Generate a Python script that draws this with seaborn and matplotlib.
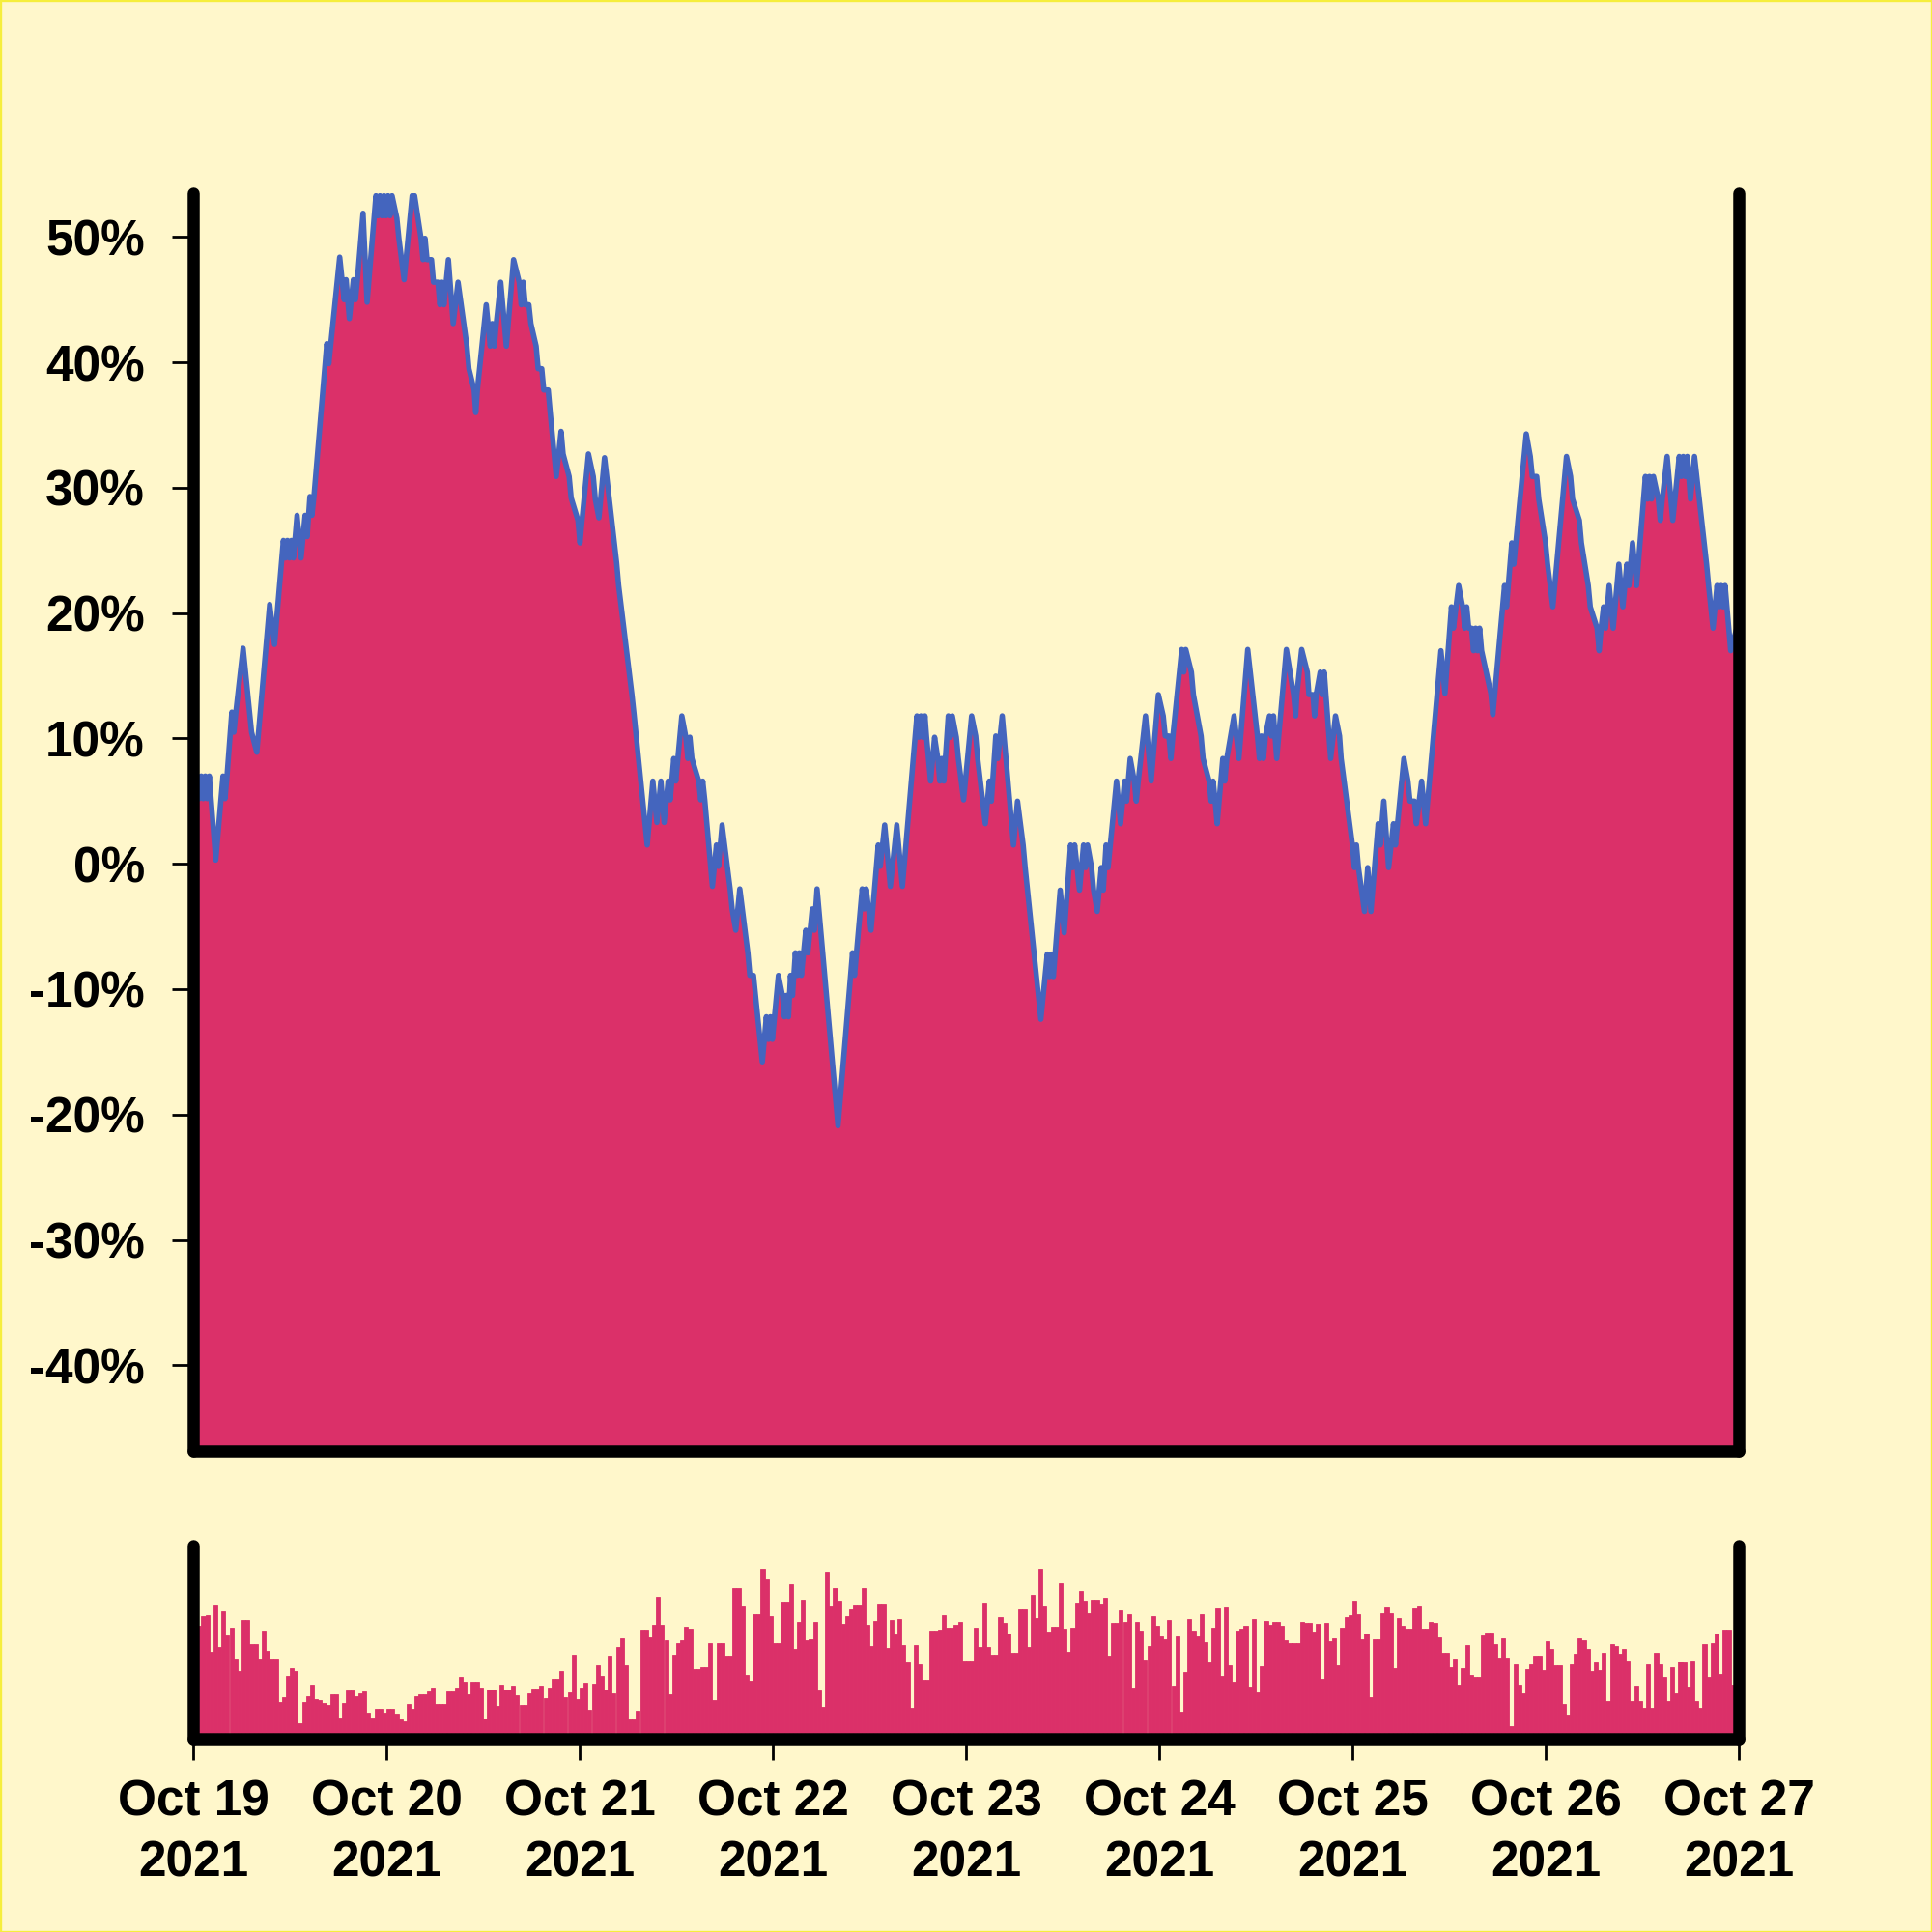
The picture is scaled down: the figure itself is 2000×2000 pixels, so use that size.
import numpy as np
import pandas as pd
import matplotlib
matplotlib.use("Agg")
import matplotlib.pyplot as plt
import seaborn as sns
from matplotlib.patches import Rectangle

# ---------------- data (hours since 2021-10-19 00:00, % change) ----------------
hours_d1 = [0.0, 0.25, 0.5, 0.75, 1.0, 1.25, 1.5, 1.75, 2.0, 2.8, 3.7, 3.95, 4.2,
            4.8, 5.05, 5.3, 6.2, 7.0, 7.25, 7.9, 9.5, 10.1, 11.2, 11.45, 11.7, 11.95,
            12.2, 12.45, 12.9, 13.4, 13.9, 14.15, 14.5, 14.75, 15.0, 16.6, 16.85, 17.1,
            18.2, 18.75, 19.0, 19.4, 19.9, 20.15, 20.4, 21.1, 21.6, 22.7, 22.95, 23.2,
            23.45, 23.7, 23.95]
pct_d1 = [7.0, 5.2, 7.0, 5.2, 7.0, 5.2, 7.0, 5.2, 7.0, 0.3, 7.0, 5.2, 7.0,
          12.1, 10.5, 12.1, 17.2, 12.1, 10.5, 8.9, 20.7, 17.5, 25.8, 24.4, 25.8, 24.4,
          25.8, 24.4, 27.8, 24.4, 27.8, 26.1, 29.3, 27.8, 29.3, 41.5, 39.9, 41.5,
          48.4, 45.0, 46.6, 43.5, 46.6, 45.0, 46.6, 51.9, 44.8, 53.3, 51.7, 53.3,
          51.7, 53.3, 51.7]

hours_d2 = [24.2, 24.45, 24.7, 25.3, 25.55, 26.2, 27.2, 27.5, 28.3, 28.55, 28.8, 29.05,
            29.6, 29.85, 30.4, 30.65, 30.9, 31.15, 31.7, 32.3, 32.9, 34.0, 34.25,
            34.9, 35.1, 35.3, 36.4, 36.9, 37.15, 37.4, 37.65, 38.2, 38.9, 39.8,
            40.5, 40.75, 41.0, 41.25, 41.7, 41.95, 42.6, 42.85, 43.3, 43.55, 44.1, 44.35,
            45.1, 45.7, 45.95, 46.7, 46.95, 47.8, 48.05, 48.3]
pct_d2 = [53.3, 51.7, 53.3, 51.5, 49.9, 46.6, 53.3, 53.3, 49.9, 48.2, 49.9, 48.2,
          48.2, 46.4, 46.4, 44.6, 46.4, 44.6, 48.2, 43.1, 46.4, 41.3, 39.5,
          37.8, 36.0, 37.8, 44.6, 41.3, 43.1, 41.3, 43.1, 46.4, 41.3, 48.2,
          46.4, 44.6, 46.4, 44.6, 44.6, 43.1, 41.3, 39.5, 39.5, 37.8, 37.8, 36.0,
          30.9, 34.5, 32.7, 30.9, 29.2, 27.4, 25.6, 27.4]

hours_d3 = [49.1, 49.7, 49.95, 50.4, 51.1, 52.6, 52.85, 54.5, 54.75, 56.4, 57.1, 57.6,
            58.1, 58.5, 59.0, 59.25, 59.7, 59.95, 60.7, 61.2, 61.45, 61.7, 61.95,
            62.8, 63.05, 63.3, 63.55, 64.5, 65.0, 65.25, 65.7, 66.7, 66.95, 67.4,
            67.9, 68.9, 69.15, 69.6, 69.85, 70.7, 71.2, 71.45, 71.7, 71.95]
pct_d3 = [32.7, 30.9, 29.1, 27.6, 32.4, 24.0, 22.2, 13.5, 12.0, 1.5, 6.6, 3.3,
          6.6, 3.3, 6.6, 5.1, 8.4, 6.6, 11.8, 10.1, 8.4, 10.1, 8.4,
          6.6, 5.1, 6.6, 5.1, -1.8, 1.5, -0.2, 3.1, -2.0, -3.6, -5.3,
          -2.0, -7.1, -8.9, -8.9, -10.5, -15.8, -12.2, -14.0, -12.2, -14.0]

hours_d4 = [72.7, 73.2, 73.45, 73.7, 73.95, 74.2, 74.45, 74.8, 75.05, 75.3, 75.55,
            76.1, 76.35, 76.9, 77.15, 77.5, 80.1, 81.9, 82.15, 83.1, 83.35, 83.6,
            84.2, 85.1, 85.35, 85.9, 86.6, 87.4, 88.1, 89.9, 90.15, 90.4, 90.65,
            90.9, 91.1, 91.6, 92.1, 92.5, 92.75, 93.0, 93.25, 93.8, 94.05, 94.3,
            94.8, 95.05, 95.7]
pct_d4 = [-8.9, -10.5, -12.2, -10.5, -12.2, -8.9, -10.5, -7.1, -8.9, -7.1, -8.9,
          -5.3, -7.1, -3.6, -5.3, -2.0, -20.9, -7.1, -8.9, -2.0, -3.6, -2.0,
          -5.3, 1.5, -0.2, 3.1, -1.8, 3.1, -1.8, 11.8, 10.1, 11.8, 10.1,
          11.8, 10.1, 6.6, 10.1, 8.4, 6.6, 8.4, 6.6, 11.8, 10.1, 11.8,
          10.1, 8.4, 5.1]

hours_d5 = [96.7, 97.2, 97.45, 98.4, 98.9, 99.15, 99.7, 99.95, 100.5, 101.9, 102.4,
            103.1, 103.35, 105.3, 106.1, 106.35, 106.6, 106.85, 107.7, 108.2, 109.0,
            109.25, 109.5, 110.1, 110.6, 110.85, 111.1, 111.6, 111.85, 112.3, 112.8,
            113.05, 113.4, 113.65, 114.7, 115.2, 115.7, 115.95, 116.4, 116.9, 117.15,
            117.4, 118.3, 119.0]
pct_d5 = [11.8, 10.2, 8.4, 3.2, 6.6, 5.0, 10.2, 8.4, 11.8, 1.5, 5.0,
          1.5, -0.3, -12.4, -7.2, -9.0, -7.2, -9.0, -2.1, -5.5, 1.5,
          -0.3, 1.5, -2.1, 1.5, -0.3, 1.5, -0.3, -2.1, -3.8, -0.3,
          -2.1, 1.5, -0.3, 6.6, 3.2, 6.6, 5.0, 8.4, 6.6, 5.0,
          6.6, 11.8, 6.6]

hours_d6 = [119.9, 120.5, 120.75, 121.2, 121.45, 121.7, 122.8, 123.05, 123.3, 124.0,
            124.25, 125.2, 125.45, 126.2, 126.45, 126.7, 126.95, 127.2, 127.9, 128.15,
            128.4, 129.3, 129.9, 131.0, 132.2, 132.45, 132.7, 132.95, 133.2, 133.7,
            133.95, 134.2, 134.6, 135.8, 136.7, 136.95, 137.1, 137.7, 138.4, 138.6,
            139.1, 139.3, 139.5, 140.0, 140.25, 140.5, 141.3, 141.9, 142.4, 142.6]
pct_d6 = [13.5, 11.8, 10.2, 10.2, 8.4, 10.2, 17.1, 15.3, 17.1, 15.3,
          13.5, 10.2, 8.4, 6.6, 5.0, 6.6, 5.0, 3.2, 8.4, 6.6,
          8.4, 11.8, 8.4, 17.1, 10.2, 8.4, 10.2, 8.4, 10.2, 11.8,
          10.2, 11.8, 8.4, 17.1, 13.5, 11.8, 13.5, 17.1, 15.3, 13.5,
          13.5, 11.8, 13.5, 15.3, 13.5, 15.3, 8.4, 11.8, 10.2, 8.4]

hours_d7 = [144.0, 144.25, 144.5, 144.75, 145.5, 145.9, 146.3, 147.2, 147.45, 147.9,
            148.5, 149.1, 149.35, 150.4, 150.9, 151.15, 151.7, 151.95, 152.6, 153.1,
            155.0, 155.5, 156.3, 156.55, 157.2, 157.7, 157.95, 158.2, 158.45, 158.8,
            159.05, 159.3, 159.55, 159.8, 160.05, 161.2, 161.45, 162.9, 163.15, 163.8,
            164.05, 165.6, 166.1, 166.35, 166.9, 167.15]
pct_d7 = [1.5, -0.3, 1.5, -0.3, -3.8, -0.3, -3.8, 3.2, 1.5, 5.0,
          -0.3, 3.2, 1.5, 8.4, 6.6, 5.0, 5.0, 3.2, 6.6, 3.2,
          17.0, 13.6, 20.5, 18.8, 22.2, 20.5, 18.8, 20.5, 18.8, 18.8,
          17.0, 18.8, 17.0, 18.8, 17.0, 13.6, 11.9, 22.2, 20.5, 25.6,
          23.9, 34.3, 32.5, 30.9, 30.9, 29.1]

hours_d8 = [168.0, 168.25, 168.9, 170.6, 171.1, 171.35, 172.2, 172.45, 173.3, 173.55,
            174.4, 174.65, 174.9, 175.2, 175.45, 175.9, 176.4, 177.1, 177.6, 178.1,
            178.35, 178.8, 179.3, 180.4, 180.65, 180.9, 181.15, 181.4, 182.0, 182.25,
            182.5, 183.1, 183.8, 184.6, 184.85, 185.1, 185.35, 185.6, 186.0, 186.5,
            188.0, 188.25, 188.8, 189.3, 189.55, 189.8, 190.05, 190.3, 191.0, 191.75]
pct_d8 = [25.6, 23.9, 20.5, 32.5, 30.9, 29.1, 27.4, 25.6, 22.2, 20.5,
          18.8, 17.0, 18.8, 20.5, 18.8, 22.2, 18.8, 23.9, 20.5, 23.9,
          22.2, 25.6, 22.2, 30.9, 29.1, 30.9, 29.1, 30.9, 29.1, 27.4,
          29.1, 32.5, 27.4, 32.5, 30.9, 32.5, 30.9, 32.5, 29.1, 32.5,
          23.9, 22.2, 18.8, 22.2, 20.5, 22.2, 20.5, 22.2, 17.0, 18.8]

hours = hours_d1 + hours_d2 + hours_d3 + hours_d4 + hours_d5 + hours_d6 + hours_d7 + hours_d8
pct = pct_d1 + pct_d2 + pct_d3 + pct_d4 + pct_d5 + pct_d6 + pct_d7 + pct_d8
assert len(hours) == len(pct)

# half-hourly volume (relative units)
volume = [
    330, 330, 360, 365, 250, 395, 265, 375, 300, 325,
    230, 190, 350, 350, 275, 275, 230, 315, 255, 230,
    230, 95, 110, 175, 200, 192, 30, 95, 112, 148,
    105, 100, 92, 85, 118, 118, 46, 93, 130, 130,
    113, 122, 127, 62, 46, 75, 75, 63, 75, 75,
    58, 40, 34, 88, 75, 113, 119, 119, 128, 140,
    90, 89, 89, 128, 128, 140, 174, 158, 120, 158,
    158, 140, 45, 133, 133, 83, 150, 133, 133, 145,
    115, 87, 87, 123, 138, 138, 145, 108, 140, 168,
    168, 192, 110, 126, 243, 103, 140, 155, 70, 153,
    208, 175, 133, 238, 122, 267, 292, 210, 40, 40,
    67, 320, 320, 294, 334, 420, 334, 287, 118, 243,
    278, 286, 327, 323, 197, 197, 203, 203, 277, 102,
    277, 277, 240, 240, 447, 447, 390, 178, 160, 367,
    367, 508, 475, 362, 277, 277, 405, 405, 460, 260,
    343, 413, 285, 290, 343, 130, 80, 498, 392, 448,
    410, 337, 360, 382, 394, 394, 447, 335, 270, 347,
    399, 399, 263, 350, 303, 353, 273, 218, 78, 273,
    213, 165, 165, 317, 317, 320, 365, 325, 326, 335,
    343, 223,
    224, 224, 325, 265, 402, 265, 243, 243, 358, 340,
    307, 247, 247, 383, 383, 267, 427, 355, 507, 390,
    313, 327, 327, 462, 321, 252, 324, 402, 438, 410,
    370, 413, 413, 399, 417, 240, 340, 340, 378, 342,
    366, 140, 343, 315, 227, 268, 360, 330, 297, 290,
    350, 145, 298, 65, 187, 352, 317, 297, 366, 280,
    217, 324, 384, 175, 389, 208, 157, 315, 322, 330,
    143, 353, 125, 205, 345, 333, 344, 344, 330, 285,
    277, 277, 277, 342, 340, 340, 313, 337, 167, 340,
    283, 293, 208, 324, 358, 364, 408, 367, 290, 308,
    110, 290, 290, 370, 387, 370, 200, 355, 331, 322,
    322, 386, 390, 322, 322, 342, 340, 295, 248, 248,
    202, 230, 150, 200, 273, 180, 172, 172, 300, 310,
    310, 275, 232, 292, 232, 20, 212, 150, 122, 198,
    212, 238, 238, 195, 283, 260, 208, 208, 88, 55,
    213, 244, 292, 285, 260, 190, 218, 195, 247, 97,
    275, 268, 245, 259, 223, 99, 145, 99, 78, 213,
    77, 247, 213, 174, 99, 204, 122, 220, 218, 142,
    225, 99, 77, 274, 174, 277, 307, 181, 320, 320,
    148, 148,
]
bar_width_h = 0.5
vol_df = pd.DataFrame({"t": np.arange(len(volume)) * bar_width_h + bar_width_h / 2,
                       "volume": volume})

ytick_vals = [-40, -30, -20, -10, 0, 10, 20, 30, 40, 50]
ytick_labels = [f"{v}%" for v in ytick_vals]
day_dates = pd.date_range("2021-10-19", "2021-10-27", freq="D")
xtick_hours = [24 * i for i in range(len(day_dates))]
xtick_labels = [f"{d:%b} {d.day}\n{d.year}" for d in day_dates]

# ---------------- style ----------------
BG = "#FFF7CB"
FILL = "#DB3069"
LINE = "#4465BE"
FS = 18.5

sns.set_style("ticks")
plt.rcParams["font.family"] = ["Liberation Sans", "DejaVu Sans"]
plt.rcParams["font.weight"] = "bold"
plt.rcParams["axes.unicode_minus"] = False

fig = plt.figure(figsize=(10, 10), dpi=200, facecolor=BG)
ax = fig.add_axes([0.1, 0.24925, 0.8, 0.65075])
ax2 = fig.add_axes([0.1, 0.1, 0.8, 0.1])

for a in (ax, ax2):
    a.set_facecolor("none")
    a.spines["top"].set_visible(False)
    for s in ("left", "right", "bottom"):
        a.spines[s].set_linewidth(4.5)
        a.spines[s].set_color("black")
        a.spines[s].set_capstyle("round")
        a.spines[s].set_zorder(5)

ymin, ymax = -46.8, 53.5
line_df = pd.DataFrame({"hours": hours, "pct": pct})
ax.fill_between(line_df["hours"], line_df["pct"], ymin, color=FILL, linewidth=0, zorder=1)
sns.lineplot(data=line_df, x="hours", y="pct", ax=ax, color=LINE, linewidth=2.0,
             estimator=None, sort=False, zorder=2)
ax.set_xlim(0, 192)
ax.set_ylim(ymin, ymax)
ax.set_yticks(ytick_vals)
ax.set_yticklabels(ytick_labels)
ax.set_xticks([])
ax.set_xlabel("")
ax.set_ylabel("")
ax.tick_params(axis="y", length=8, width=1, pad=10, labelsize=FS,
               color="black", labelcolor="black", direction="out", right=False)

sns.histplot(data=vol_df, x="t", weights="volume", binwidth=bar_width_h,
             binrange=(0, len(volume) * bar_width_h), ax=ax2,
             color=FILL, alpha=1, edgecolor=FILL, linewidth=0.3)
ax2.set_xlim(0, 192)
ax2.set_ylim(-19, 580)
ax2.set_yticks([])
ax2.set_ylabel("")
ax2.set_xlabel("")
ax2.set_xticks(xtick_hours)
ax2.set_xticklabels(xtick_labels)
ax2.tick_params(axis="x", length=8, width=1, pad=7, labelsize=FS,
                color="black", labelcolor="black", direction="out")
for t in ax2.get_xticklabels():
    t.set_linespacing(1.37)
    t.set_fontweight("bold")
for t in ax.get_yticklabels():
    t.set_fontweight("bold")

fig.patches.append(Rectangle((0, 0), 1, 1, transform=fig.transFigure, fill=False,
                             edgecolor="#F6EE3C", linewidth=1.2, zorder=10))

fig.savefig("out.png", dpi=200, facecolor=BG)
